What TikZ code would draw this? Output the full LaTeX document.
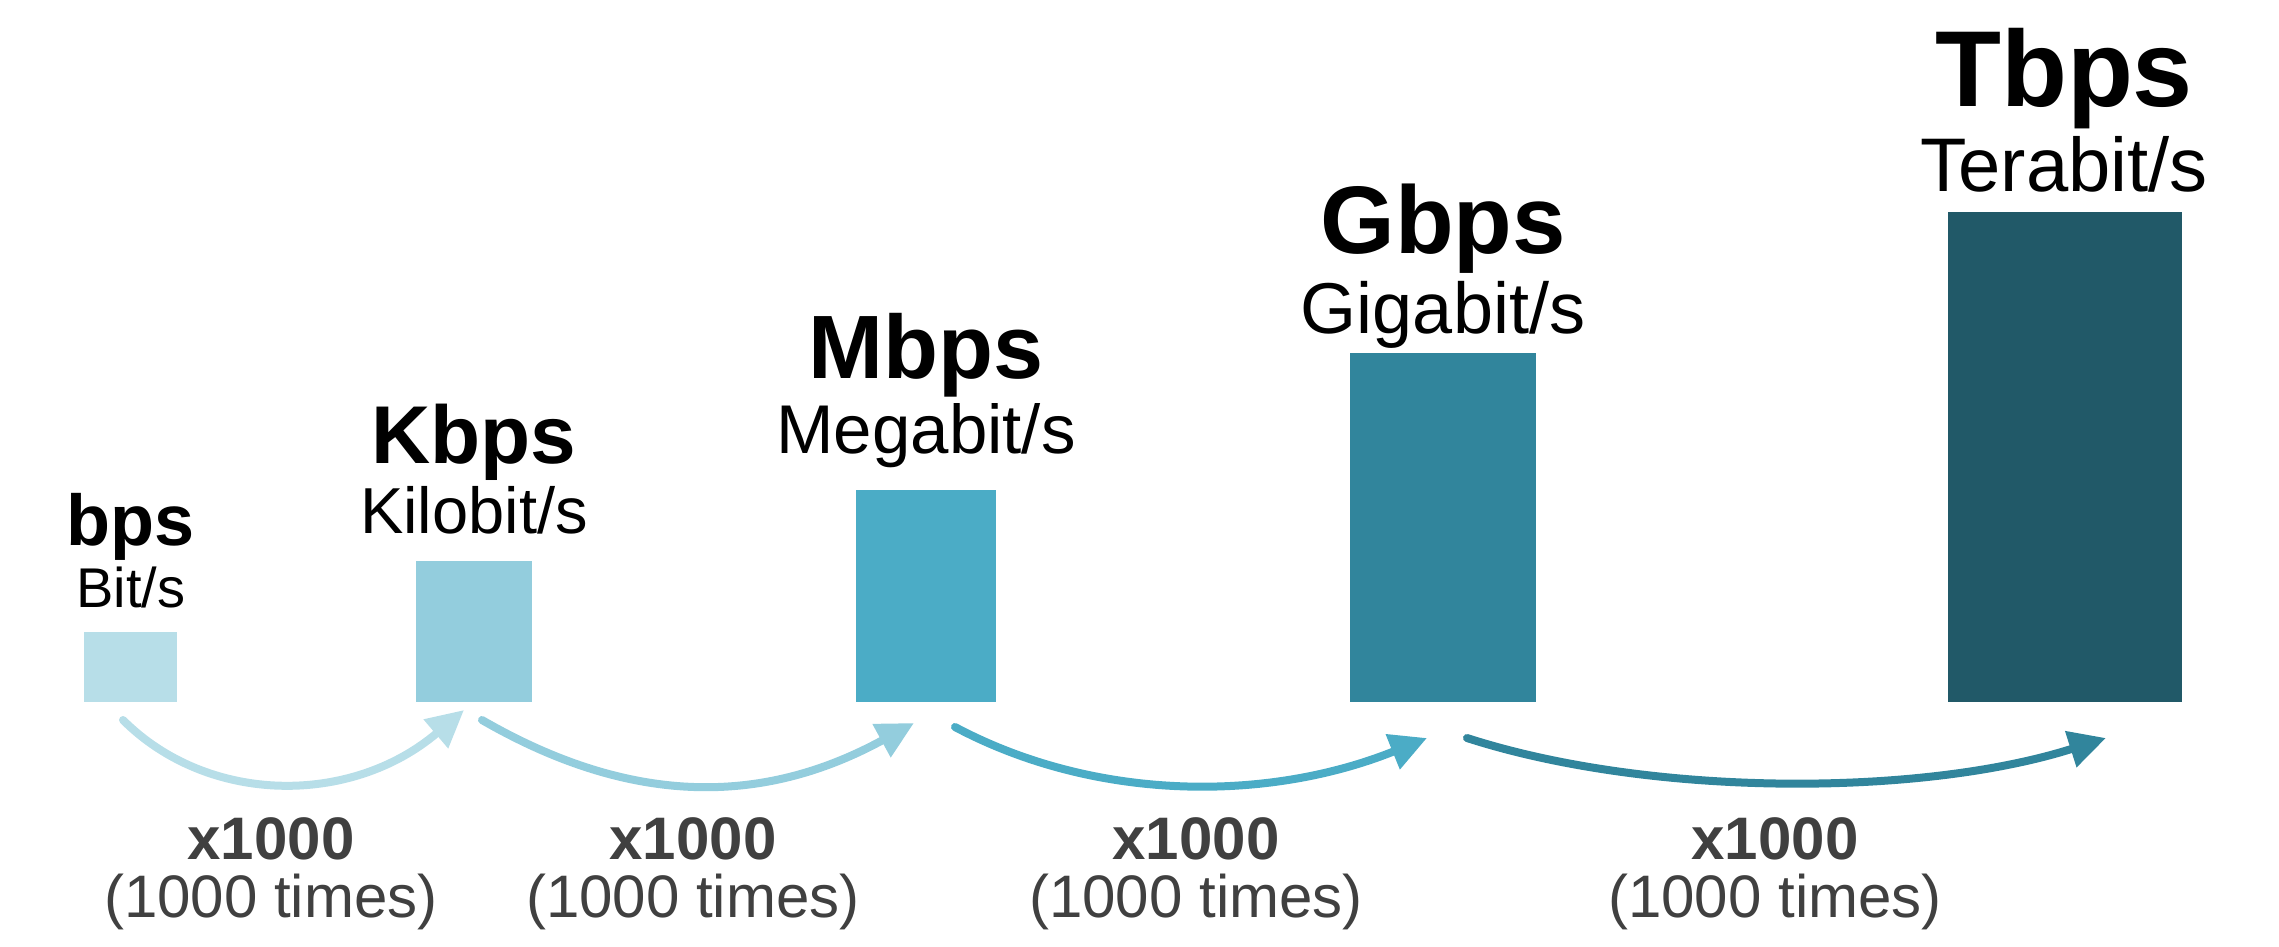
\documentclass[tikz,border=0pt]{standalone}
\usepackage{fontspec}
\setmainfont{Liberation Sans}
\usetikzlibrary{arrows.meta}
\definecolor{cA}{HTML}{B7DEE8}
\definecolor{cB}{HTML}{93CDDD}
\definecolor{cC}{HTML}{4BACC6}
\definecolor{cD}{HTML}{31859C}
\definecolor{cE}{HTML}{215968}
\definecolor{txtgray}{HTML}{404040}
\newcommand\setfs[1]{\fontsize{#1}{#1}\selectfont}
\begin{document}
\begin{tikzpicture}[x=1pt,y=-1pt,
  bar/.style={inner sep=0pt, outer sep=0pt, anchor=south west, draw=none},
  lbl/.style={anchor=base, inner sep=0pt, outer sep=0pt, text=black},
  mult/.style={anchor=base, inner sep=0pt, outer sep=0pt, text=txtgray},
  flow/.style={line width=8pt, line cap=round, -{Triangle[length=37pt,width=36pt]}}]
\useasboundingbox (0,0) rectangle (2279,947);
% bars
\node[bar, fill=cA, minimum width=93pt,  minimum height=70pt]  (b1) at (84,702) {};
\node[bar, fill=cB, minimum width=116pt, minimum height=141pt] (b2) at (416,702) {};
\node[bar, fill=cC, minimum width=140pt, minimum height=212pt] (b3) at (856,702) {};
\node[bar, fill=cD, minimum width=186pt, minimum height=349pt] (b4) at (1350,702) {};
\node[bar, fill=cE, minimum width=234pt, minimum height=490pt] (b5) at (1948,702) {};
% titles
\node[lbl] (t1) at (131,545) {\setfs{72}\bfseries bps};
\node[lbl] (u1) at (131,607) {\setfs{56}Bit/s};
\node[lbl] (t2) at (474,463) {\setfs{82}\bfseries Kbps};
\node[lbl] (u2) at (474,533) {\setfs{65}Kilobit/s};
\node[lbl] (t3) at (926,378) {\setfs{90}\bfseries Mbps};
\node[lbl] (u3) at (926,453) {\setfs{69}Megabit/s};
\node[lbl] (t4) at (1443,253) {\setfs{96}\bfseries Gbps};
\node[lbl] (u4) at (1443,333) {\setfs{72}Gigabit/s};
\node[lbl] (t5) at (2064,107) {\setfs{108}\bfseries Tbps};
\node[lbl] (u5) at (2064,192) {\setfs{76}Terabit/s};
% multipliers
\node[mult] (m1) at (271,859) {\setfs{60}\bfseries x1000};
\node[mult] (n1) at (271,917) {\setfs{60}(1000 times)};
\node[mult] (m2) at (693,859) {\setfs{60}\bfseries x1000};
\node[mult] (n2) at (693,917) {\setfs{60}(1000 times)};
\node[mult] (m3) at (1196,859) {\setfs{60}\bfseries x1000};
\node[mult] (n3) at (1196,917) {\setfs{60}(1000 times)};
\node[mult] (m4) at (1775,859) {\setfs{60}\bfseries x1000};
\node[mult] (n4) at (1775,917) {\setfs{60}(1000 times)};
% arrow ends
\coordinate (s1) at (123,720);  \coordinate (e1) at (464,710);
\coordinate (s2) at (482,720);  \coordinate (e2) at (914,723);
\coordinate (s3) at (955,727);  \coordinate (e3) at (1427,738);
\coordinate (s4) at (1467,738); \coordinate (e4) at (2106,738);
\draw[flow, cA] (s1) .. controls (208,805) and (351,806) .. (e1);
\draw[flow, cB] (s2) .. controls (631,806) and (762,806) .. (e2);
\draw[flow, cC] (s3) .. controls (1096,802) and (1268,802) .. (e3);
\draw[flow, cD] (s4) .. controls (1650,797) and (1920,797) .. (e4);
\end{tikzpicture}
\end{document}
